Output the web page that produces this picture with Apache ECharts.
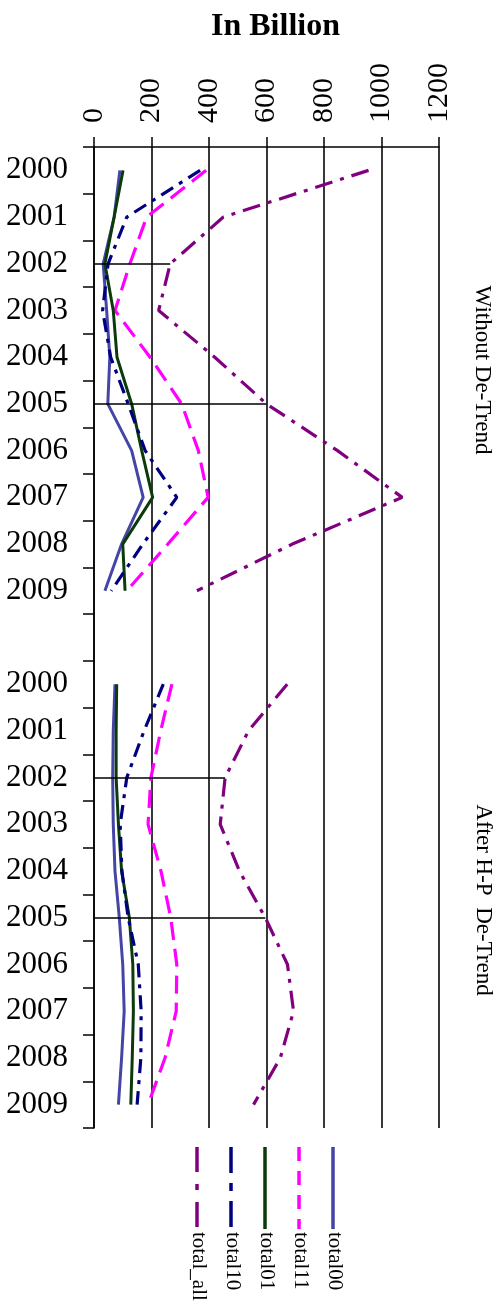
<!DOCTYPE html>
<html>
<head>
<meta charset="utf-8">
<script src="https://cdn.jsdelivr.net/npm/echarts@6/dist/echarts.min.js"></script>
<style>
  html, body { margin: 0; padding: 0; background: #fff; }
  #chart { width: 504px; height: 1304px; }
</style>
</head>
<body>
<div id="chart"></div>
<script>
// categories: two blocks of years with an empty slot between them
const years = ['2000', '2001', '2002', '2003', '2004', '2005', '2006', '2007', '2008', '2009']
const categories = years.concat([''], years)
const valueTicks = [0, 200, 400, 600, 800, 1000, 1200]

// Without De-Trend
const total00Raw = [90, 70, 32, 44, 55, 48, 131, 171, 96, 38]
const total11Raw = [390, 183, 125, 73, 195, 305, 363, 397, 257, 114]
const total01Raw = [101, 70, 38, 67, 80, 131, 166, 204, 100, 108]
const total10Raw = [369, 114, 49, 30, 58, 119, 178, 288, 170, 60]
const totalAllRaw = [955, 450, 265, 225, 420, 600, 847, 1072, 690, 358]

// After H-P De-Trend
const total00Hp = [73, 67, 65, 67, 73, 88, 100, 105, 96, 85]
const total11Hp = [271, 232, 198, 188, 233, 267, 288, 286, 247, 188]
const total01Hp = [79, 77, 77, 85, 96, 123, 135, 137, 133, 128]
const total10Hp = [241, 174, 114, 91, 97, 119, 154, 164, 163, 150]
const totalAllHp = [672, 537, 456, 439, 506, 596, 673, 694, 648, 555]

// categories where a reference line is drawn to total_all
const markedYears = ['2002', '2005']

const joinBlocks = (a, b) => a.concat([null], b)

const seriesDefs = [
  { name: 'total00', data: joinBlocks(total00Raw, total00Hp), color: '#4545a6', width: 3, dash: 'solid', legendDash: null },
  { name: 'total11', data: joinBlocks(total11Raw, total11Hp), color: '#ff00ff', width: 3.2, dash: [18, 9], legendDash: [14, 10] },
  { name: 'total01', data: joinBlocks(total01Raw, total01Hp), color: '#0b3b0b', width: 3, dash: 'solid', legendDash: null },
  { name: 'total10', data: joinBlocks(total10Raw, total10Hp), color: '#000080', width: 3.2, dash: [14, 7, 4, 7], legendDash: [26, 10, 8, 10] },
  { name: 'total_all', data: joinBlocks(totalAllRaw, totalAllHp), color: '#800080', width: 3.2, dash: [18, 8, 4, 8], legendDash: [25, 12, 6, 12] },
]

const legendOrder = ['total_all', 'total10', 'total01', 'total11', 'total00']

const font = 'Liberation Serif'
const chart = echarts.init(document.getElementById('chart'))

const allDef = seriesDefs.find((s) => s.name === 'total_all')
const markIdx = []
categories.forEach((c, i) => {
  if (markedYears.includes(c)) markIdx.push(i)
})

const series = seriesDefs.map((s) => {
  const item = {
    name: s.name,
    type: 'line',
    data: s.data,
    symbol: 'none',
    connectNulls: false,
    lineStyle: { color: s.color, width: s.width, type: s.dash },
    itemStyle: { color: s.color },
  }
  if (s === allDef) {
    item.markLine = {
      silent: true,
      symbol: 'none',
      label: { show: false },
      lineStyle: { color: '#000', width: 1.5, type: 'solid' },
      data: markIdx.map((i) => [{ coord: [0, i] }, { coord: [allDef.data[i], i] }]),
    }
  }
  return item
})

// legend drawn rotated, below the plot
const legendGraphics = []
legendOrder.forEach((name, k) => {
  const s = seriesDefs.find((d) => d.name === name)
  const x = 197 + k * 34
  legendGraphics.push({
    type: 'line',
    shape: { x1: x, y1: 1147, x2: x, y2: 1229 },
    style: { stroke: s.color, lineWidth: 3.5, lineDash: s.legendDash },
  })
  legendGraphics.push({
    type: 'text',
    x: x + 2,
    y: 1232,
    rotation: -Math.PI / 2,
    style: { text: name, font: '21px ' + font, fill: '#000', align: 'left', verticalAlign: 'middle' },
  })
})

const option = {
  animation: false,
  backgroundColor: '#fff',
  title: {
    text: 'In Billion',
    left: 206,
    top: 6,
    textStyle: { fontFamily: font, fontWeight: 'bold', fontSize: 32, color: '#000' },
  },
  grid: { left: 94, right: 65, top: 147, bottom: 176 },
  xAxis: {
    type: 'value',
    position: 'top',
    min: valueTicks[0],
    max: valueTicks[valueTicks.length - 1],
    interval: valueTicks[1] - valueTicks[0],
    axisLine: { show: true, lineStyle: { color: '#000', width: 1.5 } },
    axisTick: { show: true, length: 10, lineStyle: { color: '#000', width: 1.5 } },
    splitLine: { show: true, lineStyle: { color: '#222', width: 1.8 } },
    axisLabel: {
      rotate: -90,
      margin: 24,
      color: '#000',
      fontFamily: font,
      fontSize: 30,
      formatter: (v) => String(v),
    },
  },
  yAxis: {
    type: 'category',
    data: categories,
    inverse: true,
    position: 'left',
    axisLine: { show: true, lineStyle: { color: '#000', width: 1.5 } },
    axisTick: { show: true, length: 11, interval: 0, lineStyle: { color: '#000', width: 1.5 } },
    axisLabel: { interval: 0, margin: 26, color: '#000', fontFamily: font, fontSize: 31 },
    splitLine: { show: false },
  },
  graphic: [
    {
      type: 'text',
      x: 482,
      y: 370,
      rotation: -Math.PI / 2,
      style: { text: 'Without De-Trend', font: '23px ' + font, fill: '#000', align: 'center', verticalAlign: 'middle' },
    },
    {
      type: 'text',
      x: 483,
      y: 900,
      rotation: -Math.PI / 2,
      style: { text: 'After H-P  De-Trend', font: '23px ' + font, fill: '#000', align: 'center', verticalAlign: 'middle' },
    },
  ].concat(legendGraphics),
  series,
}

chart.setOption(option)
</script>
</body>
</html>
